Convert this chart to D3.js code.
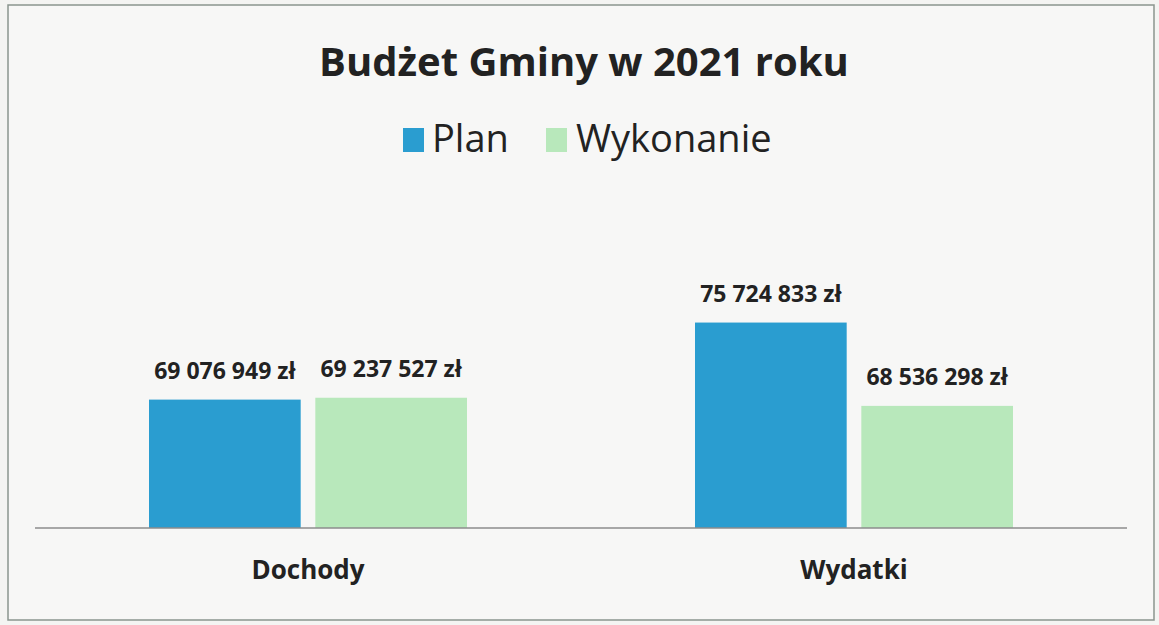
<!DOCTYPE html>
<html>
<head>
<meta charset="utf-8">
<script src="https://cdn.jsdelivr.net/npm/d3@7"></script>
<style>
  body { margin: 0; background: #f4f4f2; }
  text { font-family: "Open Sans", Lato, sans-serif; fill: #222; }
</style>
</head>
<body>
<div id="chart"></div>
<script>
let categories = ["Dochody", "Wydatki"];
let seriesNames = ["Plan", "Wykonanie"];
let planValues = [69076949, 75724833];
let wykonanieValues = [69237527, 68536298];
let seriesColors = ["#2a9dd0", "#b8e8bb"];

let width = 1159, height = 625;
let plotLeft = 35, plotRight = 1127, baseY = 528, topY = 273;

let svg = d3.select("#chart").append("svg").attr("width", width).attr("height", height);

// page + frame
svg.append("rect").attr("x", 0).attr("y", 0).attr("width", width).attr("height", height).attr("fill", "#f4f4f2");
svg.append("rect").attr("x", 8).attr("y", 5).attr("width", 1146).attr("height", 615)
    .attr("fill", "#f7f7f6").attr("stroke", "#8a958e").attr("stroke-width", 1.5);

svg.append("text").attr("x", 584).attr("y", 76).attr("text-anchor", "middle")
    .attr("font-size", 40).attr("font-weight", "bold").text("Budżet Gminy w 2021 roku");

// legend
let legendItems = [{x: 403, tx: 432}, {x: 546, tx: 576}];
seriesNames.forEach((name, i) => {
    let g = svg.append("g");
    g.append("rect").attr("x", legendItems[i].x).attr("y", 128).attr("width", 21).attr("height", 24).attr("fill", seriesColors[i]);
    g.append("text").attr("x", legendItems[i].tx).attr("y", 152).attr("font-size", 38).text(name);
});

let x0 = d3.scaleBand().domain(categories).range([plotLeft, plotRight]).paddingInner(0).paddingOuter(0);
let x1 = d3.scaleBand().domain(seriesNames).range([0, 318]).paddingInner(0.088);
let y = d3.scaleLinear().domain([58000000, 80000000]).range([baseY, topY]);

let rows = categories.map((c, i) => ({cat: c, values: [planValues[i], wykonanieValues[i]]}));
let fmt = v => d3.format(",")(v).replace(/,/g, " ") + " zł";

let groups = svg.selectAll(".grp").data(rows).enter().append("g")
    .attr("transform", d => `translate(${x0(d.cat) + (x0.bandwidth() - 318) / 2}, 0)`);

groups.selectAll("rect").data(d => d.values.map((v, i) => ({v: v, s: seriesNames[i], i: i}))).enter()
    .append("rect")
    .attr("x", d => x1(d.s)).attr("width", x1.bandwidth())
    .attr("y", d => y(d.v)).attr("height", d => baseY - y(d.v))
    .attr("fill", d => seriesColors[d.i]);

groups.selectAll(".lbl").data(d => d.values.map((v, i) => ({v: v, s: seriesNames[i]}))).enter()
    .append("text")
    .attr("x", d => x1(d.s) + x1.bandwidth() / 2).attr("y", d => y(d.v) - 21)
    .attr("text-anchor", "middle").attr("font-size", 23).attr("font-weight", "bold")
    .text(d => fmt(d.v));

// baseline
svg.append("line").attr("x1", plotLeft).attr("x2", plotRight).attr("y1", baseY).attr("y2", baseY)
    .attr("stroke", "#8c8c8c").attr("stroke-width", 1.5);

svg.selectAll(".cat").data(categories).enter().append("text")
    .attr("x", d => x0(d) + x0.bandwidth() / 2).attr("y", 579)
    .attr("text-anchor", "middle").attr("font-size", 26).attr("font-weight", "bold")
    .text(d => d);
</script>
</body>
</html>
